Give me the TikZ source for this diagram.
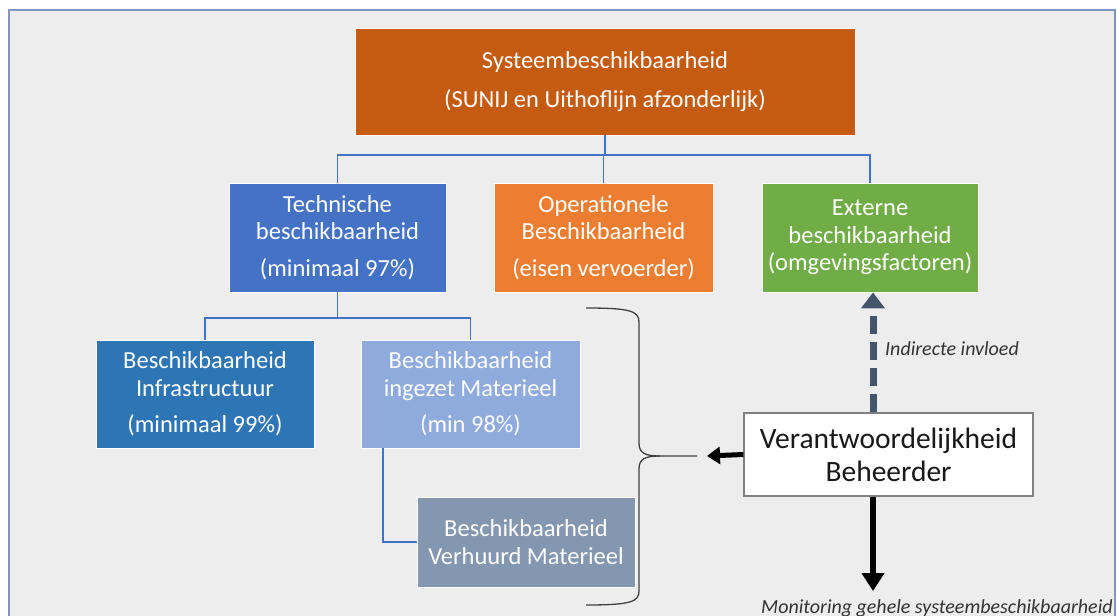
\documentclass[tikz,border=0pt]{standalone}
\usepackage{fontspec}
\setmainfont{Carlito}
\usetikzlibrary{arrows.meta}
\definecolor{bgc}{HTML}{EDEDED}
\definecolor{framec}{HTML}{7F97C2}
\definecolor{lineblue}{HTML}{4472C4}
\definecolor{topc}{HTML}{C55A11}
\definecolor{techc}{HTML}{4472C4}
\definecolor{operc}{HTML}{ED7D31}
\definecolor{extc}{HTML}{70AD47}
\definecolor{infrac}{HTML}{2E75B6}
\definecolor{ingezc}{HTML}{8FAADC}
\definecolor{verhc}{HTML}{8497B0}
\definecolor{dashc}{HTML}{44546A}
\definecolor{bracec}{HTML}{404040}
\definecolor{labc}{HTML}{333333}
\begin{document}
\begin{tikzpicture}[x=1pt,y=-1pt,
  box/.style={draw=white, line width=0.8pt, text=white, align=center, inner sep=0pt,
    font=\fontsize{24.5}{27.5}\selectfont},
  conn/.style={draw=lineblue, line width=1.8pt},
  resbox/.style={draw=gray, fill=white, line width=1.2pt, align=center, inner sep=0pt,
    text=black!90, font=\fontsize{29.5}{33}\selectfont, minimum width=289pt, minimum height=83pt},
  lab/.style={anchor=west, inner sep=0pt, text=labc, font=\itshape\fontsize{20}{22}\selectfont},
  fatarrow/.style={draw=black, line width=5pt, -{Triangle[length=13pt,width=17pt]}},
  dasharrow/.style={draw=dashc, line width=7pt, dash pattern=on 18pt off 8pt, -{Triangle[length=16pt,width=23pt]}},
]
\useasboundingbox (0,0) rectangle (1117,616);
\fill[white] (0,0) rectangle (1117,616);
\filldraw[fill=bgc, draw=framec, line width=2.5pt] (9,10) rectangle (1115,660);

\node[box, fill=topc, minimum width=500pt, minimum height=107pt] (top) at (605,81.5)
  {Systeembeschikbaarheid\\[11pt](SUNIJ en Uithoflijn afzonderlijk)};
\node[box, fill=techc, minimum width=217pt, minimum height=109pt] (tech) at (337.5,237.5)
  {Technische\\beschikbaarheid\\[9pt](minimaal 97\%)};
\node[box, fill=operc, minimum width=219pt, minimum height=109pt] (oper) at (603.5,237.5)
  {Operationele\\Beschikbaarheid\\[9pt](eisen vervoerder)};
\node[box, fill=extc, minimum width=216pt, minimum height=109pt] (ext) at (870,237.5)
  {Externe\\beschikbaarheid\\(omgevingsfactoren)};
\node[box, fill=infrac, minimum width=218pt, minimum height=108pt] (infra) at (205,394)
  {Beschikbaarheid\\Infrastructuur\\[9pt](minimaal 99\%)};
\node[box, fill=ingezc, minimum width=219pt, minimum height=108pt] (ingez) at (470.5,394)
  {Beschikbaarheid\\ingezet Materieel\\[9pt](min 98\%)};
\node[box, fill=verhc, minimum width=218pt, minimum height=90pt] (verh) at (526,542)
  {Beschikbaarheid\\Verhuurd Materieel};
\node[resbox] (resp) at (888.5,454.5) {Verantwoordelijkheid\\Beheerder};

% connectors
\draw[conn] (top.south) -- ++(0,20);
\draw[conn] (tech.north) -- ++(0,-28) -| (ext.north);
\draw[conn] (oper.north) -- ++(0,-28);
\draw[conn] (tech.south) -- ++(0,26);
\draw[conn] (infra.north) -- ++(0,-22) -| (ingez.north);
\draw[conn] ([xshift=22pt]ingez.south west) |- (verh.west);

% brace
\coordinate (btip) at (697,456);
\draw[bracec, line width=1.3pt]
  (586,308) .. controls (630,308) and (639,311) .. (639,322)
  -- (639,443) .. controls (639,453) and (645,456) .. (660,456) -- (btip);
\draw[bracec, line width=1.3pt]
  (586,605) .. controls (630,605) and (639,602) .. (639,591)
  -- (639,469) .. controls (639,459) and (645,456) .. (660,456);

% arrows
\coordinate (mx) at (873,0);
\coordinate (larr) at (707,456);
\coordinate (mend) at (873,591);
\draw[fatarrow] (resp.west) -- (larr);
\draw[dasharrow] (resp.north -| mx) -- (ext.south -| mx);
\draw[fatarrow, line width=6pt, -{Triangle[length=18pt,width=22pt]}] (resp.south -| mx) -- (mend);

\node[lab] (ind) at (885,349) {Indirecte invloed};
\node[lab] (mon) at (761,608) {Monitoring gehele systeembeschikbaarheid};
\end{tikzpicture}
\end{document}
